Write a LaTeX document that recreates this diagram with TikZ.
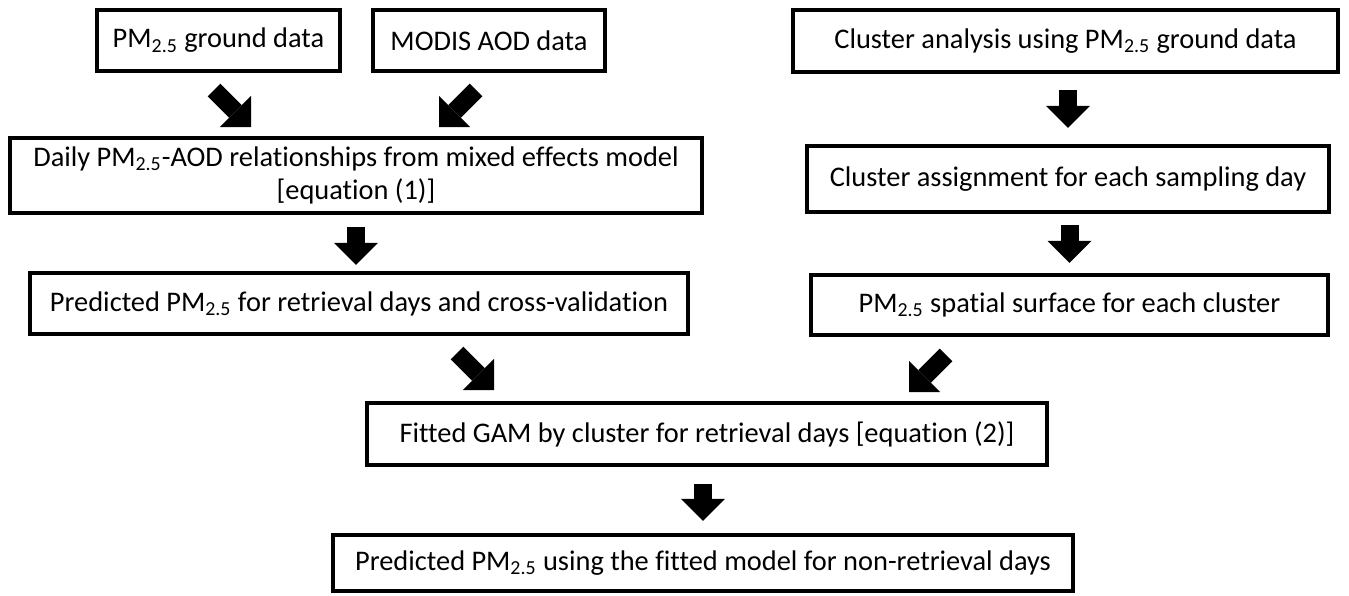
\documentclass[tikz,border=0pt]{standalone}
\usepackage{fontspec}
\setmainfont[Ligatures=NoCommon]{Carlito}
\usetikzlibrary{arrows.meta}

\begin{document}
\begin{tikzpicture}[x=0.5pt,y=-0.5pt]
        \tikzset{box/.style = {shape=rectangle,draw,line width=2.2pt,inner sep=0pt,align=center,
                font=\fontsize{14.2}{16.5}\selectfont}}
        \tikzset{edge/.style = {line width=9pt,-{Triangle[width=22pt,length=11pt,line width=0pt]}}}

        \useasboundingbox (0,0) rectangle (1349,595);

        % boxes
        \node[box, minimum width=121.5pt, minimum height=30.5pt] (ground) at (218.5,40.5) {PM\textsubscript{2.5} ground data};
        \node[box, minimum width=116pt, minimum height=30.5pt] (modis) at (489,40.5) {MODIS AOD data};
        \node[box, minimum width=272.5pt, minimum height=31pt] (analysis) at (1065.5,41) {Cluster analysis using PM\textsubscript{2.5} ground data};
        \node[box, minimum width=346pt, minimum height=37.5pt] (daily) at (356,175.5)
            {Daily PM\textsubscript{2.5}-AOD relationships from mixed effects model\\{}[equation (1)]};
        \node[box, minimum width=261pt, minimum height=33pt] (assign) at (1068,179) {Cluster assignment for each sampling day};
        \node[box, minimum width=329pt, minimum height=30.5pt] (predicted) at (359,303.5) {Predicted PM\textsubscript{2.5} for retrieval days and cross-validation};
        \node[box, minimum width=258.5pt, minimum height=30pt] (surface) at (1069.5,305) {PM\textsubscript{2.5} spatial surface for each cluster};
        \node[box, minimum width=340pt, minimum height=31pt] (gam) at (707,434) {Fitted GAM by cluster for retrieval days [equation (2)]};
        \node[box, minimum width=370pt, minimum height=28pt] (final) at (703,563) {Predicted PM\textsubscript{2.5} using the fitted model for non-retrieval days};

        % arrow ends
        \coordinate (ground-t) at (214,90);
        \coordinate (ground-h) at (251,127);
        \coordinate (modis-t) at (476,90);
        \coordinate (modis-h) at (439,127);
        \coordinate (predicted-t) at (457,353);
        \coordinate (predicted-h) at (494,390);
        \coordinate (surface-t) at (946,355);
        \coordinate (surface-h) at (909,392);

        % arrows
        \draw[edge] (ground-t) -- (ground-h);
        \draw[edge] (modis-t) -- (modis-h);
        \draw[edge, shorten <=6pt, shorten >=3pt] (daily.south) -- (daily.south |- predicted.north);
        \draw[edge, shorten <=8pt, shorten >=8pt] (assign.north |- analysis.south) -- (assign.north);
        \draw[edge, shorten <=5.5pt, shorten >=5pt] (surface.north |- assign.south) -- (surface.north);
        \draw[edge] (predicted-t) -- (predicted-h);
        \draw[edge] (surface-t) -- (surface-h);
        \draw[edge, shorten <=8.5pt, shorten >=6pt] (final.north |- gam.south) -- (final.north);

\end{tikzpicture}
\end{document}
